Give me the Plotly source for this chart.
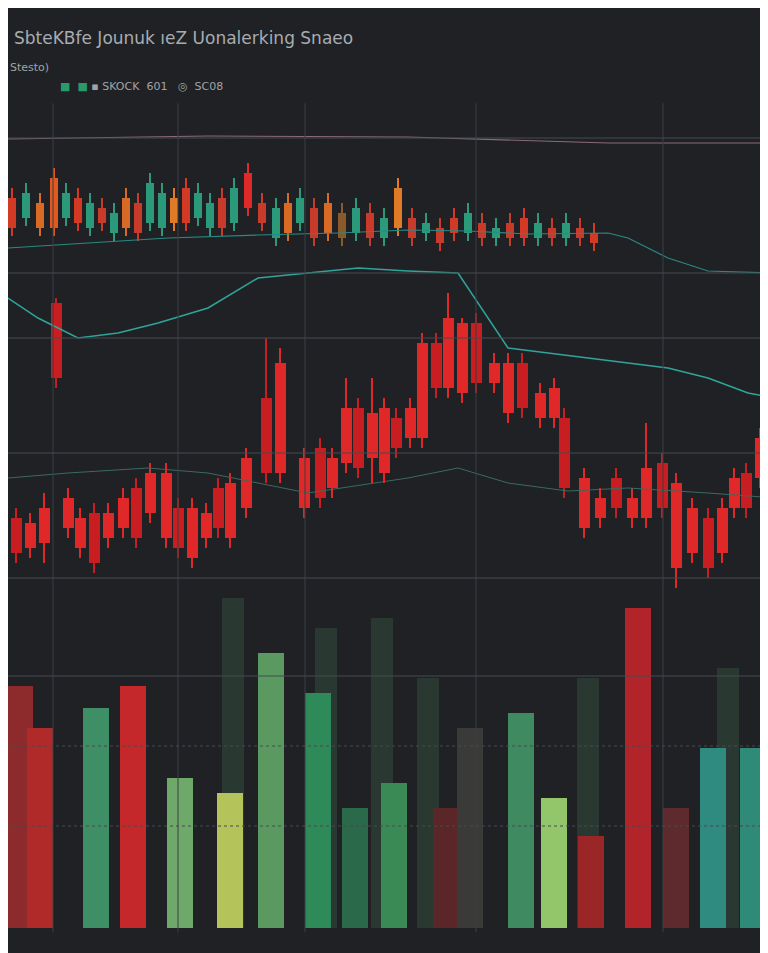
import plotly.graph_objects as go

# main candles: x position, open, high, low, close (price units)
main_x = [8, 22, 36, 48, 60, 72, 86, 100, 115, 128, 142, 158, 170, 184, 198, 210, 222, 238,
          258, 272, 296, 312, 324, 338, 350, 364, 376, 388, 402, 414, 428, 440, 454, 468,
          486, 500, 514, 532, 546, 556, 576, 592, 608, 624, 638, 654, 668, 684, 700, 714,
          726, 738, 752, 764]
main_open = [443, 438, 453, 658, 463, 443, 448, 448, 463, 473, 488, 488, 453, 453, 448, 473,
             478, 503, 563, 598, 503, 513, 503, 553, 553, 548, 553, 543, 553, 618, 618, 643,
             638, 638, 598, 598, 598, 568, 573, 543, 483, 463, 483, 463, 493, 498, 478, 453,
             443, 453, 483, 488, 523, 463]
main_close = [408, 413, 418, 583, 433, 413, 398, 423, 433, 423, 448, 423, 413, 403, 423, 433,
              423, 453, 488, 488, 453, 463, 473, 498, 493, 503, 488, 513, 523, 523, 573, 573,
              568, 578, 578, 548, 553, 543, 543, 473, 433, 443, 453, 443, 443, 453, 393, 408,
              393, 408, 453, 453, 483, 433]
main_high = [453, 448, 468, 663, 473, 453, 458, 458, 473, 483, 498, 498, 463, 463, 458, 483,
             488, 513, 623, 613, 513, 523, 513, 583, 563, 583, 563, 553, 563, 628, 628, 668,
             643, 648, 608, 608, 608, 578, 583, 553, 493, 473, 493, 473, 538, 508, 488, 463,
             453, 463, 493, 498, 533, 473]
main_low = [398, 403, 398, 573, 423, 403, 388, 413, 423, 413, 438, 413, 403, 393, 413, 423,
            413, 443, 478, 478, 443, 453, 463, 488, 483, 478, 478, 503, 513, 513, 563, 563,
            558, 568, 568, 538, 543, 533, 533, 463, 423, 433, 443, 433, 433, 443, 373, 398,
            383, 398, 443, 443, 473, 423]

# top strip candles
top_x = [4, 18, 32, 46, 58, 70, 82, 94, 106, 118, 130, 142, 154, 166, 178, 190, 202, 214,
         226, 240, 254, 268, 280, 292, 306, 320, 334, 348, 362, 376, 390, 404, 418, 432,
         446, 460, 474, 488, 502, 516, 530, 544, 558, 572, 586]
top_open = [763, 768, 758, 783, 768, 763, 758, 753, 748, 763, 758, 778, 768, 763, 773, 768,
            758, 763, 773, 788, 758, 753, 758, 763, 753, 758, 748, 753, 748, 743, 773, 743,
            738, 733, 743, 748, 738, 733, 738, 743, 738, 733, 738, 733, 728]
top_close = [733, 743, 733, 733, 743, 738, 733, 738, 728, 733, 728, 738, 733, 738, 738, 743,
             733, 733, 738, 753, 738, 723, 728, 738, 723, 728, 723, 728, 723, 723, 733, 723,
             728, 718, 728, 728, 723, 723, 723, 723, 723, 723, 723, 723, 718]
top_col = ['#d23a26', '#2a9a7a', '#d86a26', '#e05a20', '#2a9a7a', '#d23a26', '#2a9a7a', '#c83a2a',
           '#2a9a7a', '#d86a26', '#c83a2a', '#2a9a7a', '#2a9a7a', '#e07a26', '#d23a26', '#2a9a7a',
           '#2a9a7a', '#c83a2a', '#2a9a7a', '#e02a2a', '#c83a2a', '#2a9a7a', '#d86a26', '#2a9a7a',
           '#c83a2a', '#d86a26', '#8a5a2a', '#2a9a7a', '#c83a2a', '#2a9a7a', '#e07a26', '#c83a2a',
           '#2a9a7a', '#c83a2a', '#d23a26', '#2a9a7a', '#c83a2a', '#2a9a7a', '#c83a2a', '#d23a26',
           '#2a9a7a', '#c83a2a', '#2a9a7a', '#c83a2a', '#d23a26']

# overlay lines
line_x = [0, 30, 70, 110, 150, 200, 250, 300, 350, 400, 450, 500, 540, 580, 620, 660, 700, 740, 768]
line_y = [663, 643, 623, 628, 638, 653, 683, 688, 693, 690, 688, 613, 608, 603, 598, 593, 583, 568, 563]
line2_x = [0, 80, 160, 250, 330, 400, 460, 520, 600, 620, 660, 700, 768]
line2_y = [713, 718, 723, 726, 728, 731, 730, 727, 728, 723, 703, 690, 688]
line3_x = [0, 60, 140, 200, 300, 400, 450, 500, 560, 620, 700, 768]
line3_y = [483, 488, 493, 488, 468, 483, 493, 478, 470, 473, 468, 463]

# volume bars
vol_x = [12, 32, 88, 125, 172, 222, 263, 310, 347, 386, 438, 462, 513, 546, 583, 630, 668, 705, 745]
vol = [242, 200, 220, 242, 150, 135, 275, 235, 120, 145, 120, 200, 215, 130, 92, 320, 120, 180, 180]
vol_col = ['#8c2a2c', '#b12a2a', '#3f8f66', '#c4282a', '#6fa96a', '#b5c45a', '#5a9a60', '#2f8a5a',
           '#2a6a4a', '#3a8a55', '#5a2628', '#3a3a38', '#3f8a60', '#93c56a', '#9b2628', '#b0242a',
           '#5e2a2e', '#2f8a80', '#2f8a78']
ghost_x = [225, 318, 374, 420, 580, 720]
ghost = [330, 300, 310, 250, 250, 260]


def candle_traces(xs, o, h, l, c, colors, body_w, wick_w):
    lo = [min(a, b) for a, b in zip(o, c)]
    hi = [max(a, b) for a, b in zip(o, c)]
    wick = go.Bar(x=xs, y=[b - a for a, b in zip(l, h)], base=l, width=wick_w,
                  marker=dict(color=colors, line=dict(width=0)), showlegend=False)
    body = go.Bar(x=xs, y=[b - a for a, b in zip(lo, hi)], base=lo, width=body_w,
                  marker=dict(color=colors, line=dict(width=0)), showlegend=False)
    return [wick, body]


fig = go.Figure()
fig.add_trace(go.Bar(x=ghost_x, y=ghost, yaxis='y2', width=22,
                     marker=dict(color='rgba(60,100,70,0.35)', line=dict(width=0)), showlegend=False))
fig.add_trace(go.Bar(x=vol_x, y=vol, yaxis='y2', width=26,
                     marker=dict(color=vol_col, line=dict(width=0)), showlegend=False))
fig.add_trace(go.Scatter(x=line_x, y=line_y, mode='lines', line=dict(color='#2fa59a', width=1.5), showlegend=False))
fig.add_trace(go.Scatter(x=line2_x, y=line2_y, mode='lines', line=dict(color='#2a8a84', width=1.2), showlegend=False))
fig.add_trace(go.Scatter(x=line3_x, y=line3_y, mode='lines', line=dict(color='#3a6a60', width=1), showlegend=False))
fig.add_trace(go.Scatter(x=[0, 200, 400, 600, 768], y=[822, 825, 824, 818, 818], mode='lines',
                         line=dict(color='#8a6a78', width=1.2), showlegend=False))
main_cols = ['#e02828' if i % 3 else '#c81e22' for i in range(len(main_x))]
for t in candle_traces(main_x, main_open, main_high, main_low, main_close, main_cols, 11, 1.5):
    fig.add_trace(t)
top_high = [v + 10 for v in top_open]
top_low = [v - 8 for v in top_close]
for t in candle_traces(top_x, top_open, top_high, top_low, top_close, top_col, 8, 1.2):
    fig.add_trace(t)

shapes = []
for gx in [45, 170, 297, 468, 655]:
    shapes.append(dict(type='line', xref='x', yref='paper', x0=gx, x1=gx, y0=0.03, y1=0.9,
                       line=dict(color='#3a3e44', width=1)))
for gy in [130, 265, 330, 445, 570, 668, 738, 818]:
    shapes.append(dict(type='line', xref='paper', yref='paper', x0=0, x1=1, y0=1 - gy / 953, y1=1 - gy / 953,
                       line=dict(color='#464a50', width=1, dash='dot' if gy > 700 else 'solid')))

fig.update_layout(
    width=768, height=953, margin=dict(l=0, r=0, t=0, b=0),
    paper_bgcolor='#1f2125', plot_bgcolor='#1f2125', barmode='overlay', bargap=0,
    xaxis=dict(range=[0, 768], visible=False),
    yaxis=dict(range=[0, 953], visible=False),
    yaxis2=dict(range=[-33, 920], overlaying='y', visible=False),
    shapes=shapes,
    font=dict(family='DejaVu Sans', color='#b0b4b8'),
    annotations=[
        dict(text='SbteKBfe Jounuk ıeZ Uonalerking Snaeo', x=0.005, y=1 - 30 / 953, xref='paper', yref='paper',
             xanchor='left', yanchor='middle', showarrow=False, font=dict(size=17, color='#a8acb0')),
        dict(text='Stesto)', x=0.0, y=1 - 60 / 953, xref='paper', yref='paper',
             xanchor='left', yanchor='middle', showarrow=False, font=dict(size=11, color='#a0a4a8')),
        dict(text='<span style="color:#2a9a6a">■</span>  <span style="color:#2a9a6a">■</span> ▪ SKOCK  601   ◎  SC08',
             x=0.065, y=1 - 78 / 953, xref='paper', yref='paper',
             xanchor='left', yanchor='middle', showarrow=False, font=dict(size=11, color='#a0a4a8')),
    ],
)
fig.write_html("out.html")
